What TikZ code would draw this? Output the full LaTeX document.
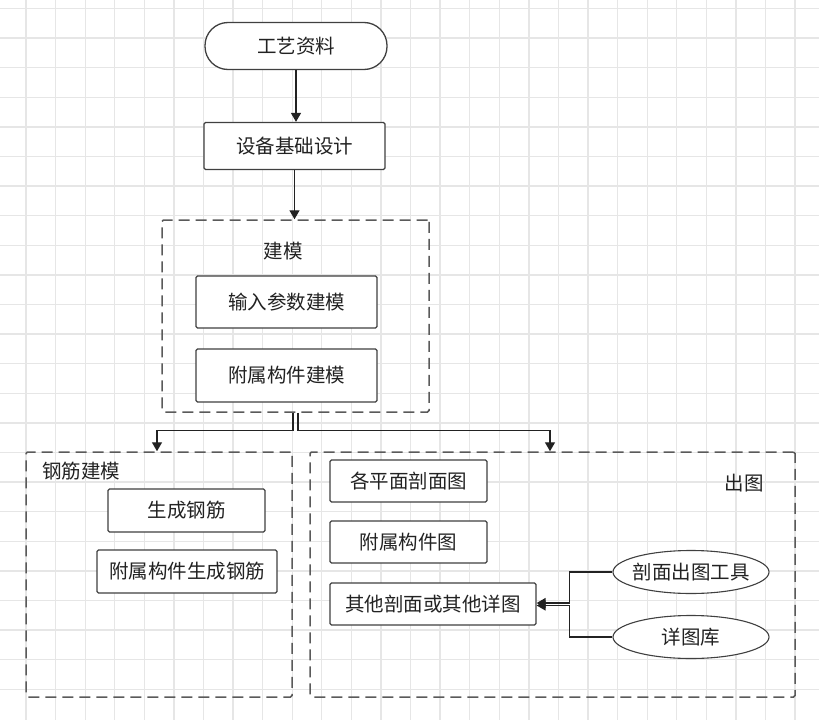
\documentclass[tikz,border=0pt]{standalone}
\usepackage{fontspec}
\newfontfamily\cjk{Noto Sans CJK SC}
\usepackage{xcolor}
\usepackage{tikz}
\usetikzlibrary{shapes.geometric, arrows.meta, positioning}

\definecolor{lineGray}{HTML}{404040}
\definecolor{dashGray}{HTML}{5A5A5A}
\definecolor{gridGray}{HTML}{E6E6E6}
\definecolor{textGray}{HTML}{222222}

\begin{document}
\begin{tikzpicture}[
    x=1pt, y=-1pt,
    gridline/.style={draw=gridGray, line width=1.3pt},
    process/.style={rectangle, draw=lineGray, line width=1.3pt, rounded corners=1.5pt, fill=white, inner sep=0pt, font={\cjk\fontsize{19.5}{22}\selectfont}, text=textGray},
    terminal/.style={process, rounded corners=23pt},
    source/.style={ellipse, draw=lineGray, line width=1.1pt, fill=white, inner xsep=-6pt, inner ysep=0pt, font={\cjk\fontsize{19.5}{22}\selectfont}, text=textGray},
    group/.style={rectangle, draw=dashGray, line width=1.5pt, dash pattern=on 11pt off 6pt, rounded corners=1.5pt},
    grouplabel/.style={font={\cjk\fontsize{19.5}{22}\selectfont}, text=textGray, inner sep=0pt},
    arrow/.style={-{Triangle[length=9pt, width=10pt]}, line width=1.4pt, draw=textGray}
]

\useasboundingbox (0,0) rectangle (819,720);
\fill[white] (0,0) rectangle (819,720);

% background grid
\foreach \i in {0,...,26}
    \draw[gridline] (26+29.58*\i,0) -- (26+29.58*\i,720);
\foreach \j in {0,...,23}
    \draw[gridline] (0,8.5+29.6*\j) -- (819,8.5+29.6*\j);

% groups
\node[group, minimum width=267pt, minimum height=192pt] (model) at (295.5,316) {};
\node[group, minimum width=266pt, minimum height=245pt] (rebar) at (159,574.5) {};
\node[group, minimum width=485pt, minimum height=245pt] (drawing) at (552.5,574.5) {};

\node[grouplabel] (modellabel) at (283,251) {建模};
\node[grouplabel, anchor=west] (rebarlabel) at (42,471) {钢筋建模};
\node[grouplabel] (drawinglabel) at (744,483) {出图};

% main flow
\node[terminal, minimum width=182pt, minimum height=47pt] (start) at (296,46) {工艺资料};
\node[process, minimum width=181pt, minimum height=47pt] (design) at (294.5,146) {设备基础设计};

\node[process, minimum width=181pt, minimum height=52pt] (input) at (286.5,302) {输入参数建模};
\node[process, minimum width=181pt, minimum height=53pt] (attach) at (286.5,375.5) {附属构件建模};

\node[process, minimum width=157pt, minimum height=43pt] (genrebar) at (186.5,510.5) {生成钢筋};
\node[process, minimum width=180pt, minimum height=43pt] (attrebar) at (187,571.5) {附属构件生成钢筋};

\node[process, minimum width=157pt, minimum height=42pt] (plane) at (408.5,481) {各平面剖面图};
\node[process, minimum width=157pt, minimum height=42pt] (attdraw) at (408.5,542) {附属构件图};
\node[process, minimum width=206pt, minimum height=42pt] (other) at (433,604) {其他剖面或其他详图};

\node[source, minimum width=156pt, minimum height=43pt] (tool) at (691,572) {剖面出图工具};
\node[source, minimum width=156pt, minimum height=43pt] (library) at (691,637) {详图库};

% connectors
\draw[arrow] (start.south) -- (start.south |- design.north);
\draw[arrow] (design.south) -- (design.south |- model.north);
\draw[arrow] ([xshift=-2.5pt]model.south) -- ++(0,18) -| ([xshift=-2pt]rebar.north);
\draw[arrow] ([xshift=2.5pt]model.south) -- ++(0,18) -| ([xshift=-2.5pt]drawing.north);
\draw[arrow] (tool.west) -- ++(-43,0) |- ([yshift=1pt]other.east);
\draw[arrow] (library.west) -- ++(-43,0) |- ([yshift=-1.5pt]other.east);

\end{tikzpicture}
\end{document}
